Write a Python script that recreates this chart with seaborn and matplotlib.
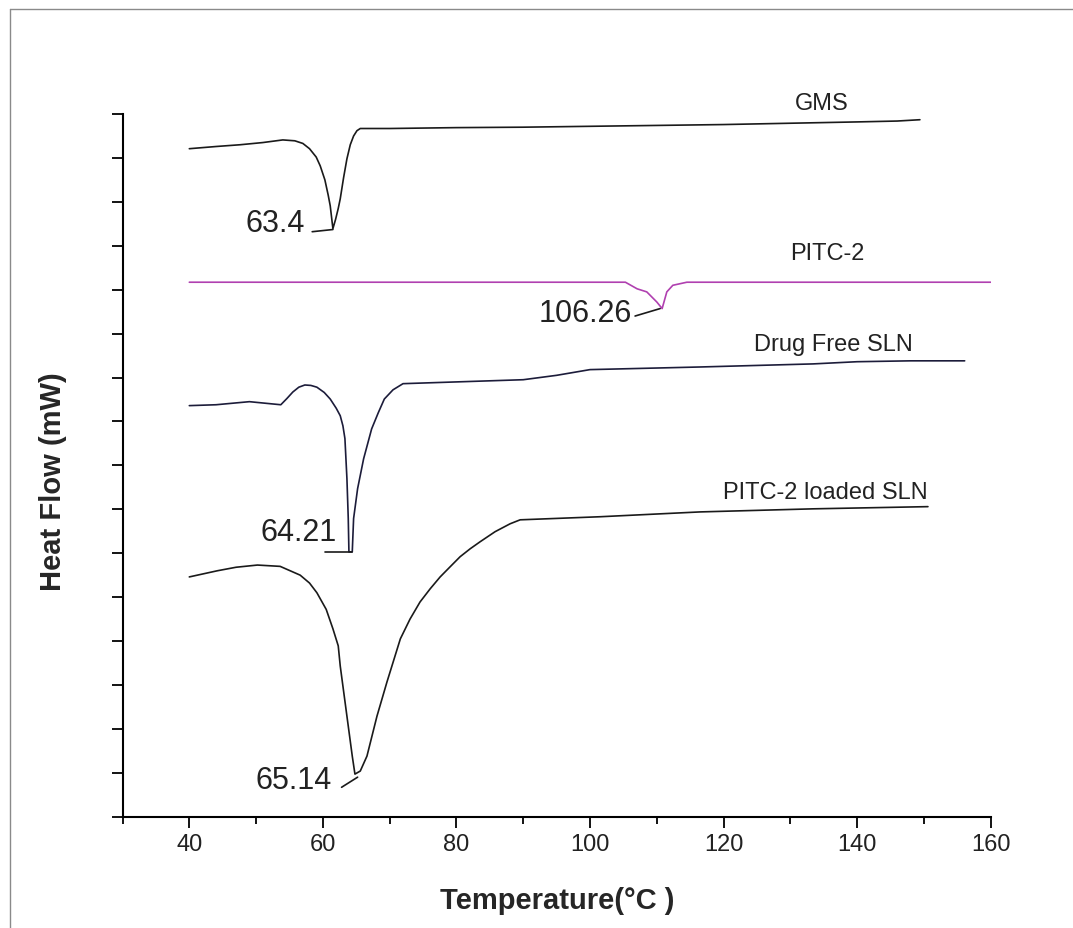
import matplotlib
matplotlib.use("Agg")
import matplotlib.pyplot as plt
from matplotlib.lines import Line2D
from matplotlib.ticker import MultipleLocator, NullFormatter
import seaborn as sns
import pandas as pd

# ---------------- data ----------------
gms_t = [40.0, 44.0, 47.6, 51.0, 54.0, 55.8, 57.0, 58.0, 59.0, 59.6, 60.3, 60.8, 61.1, 61.5, 61.9, 62.3, 62.6, 63.1,
         63.6, 64.1, 64.6, 65.1, 65.6, 70.0, 80.0, 90.0, 100.0, 110.0, 120.0, 130.0, 140.0, 146.0, 149.4]
gms_hf = [15.21, 15.26, 15.30, 15.35, 15.41, 15.39, 15.33, 15.21, 15.02, 14.82, 14.50, 14.15, 13.91, 13.39, 13.60, 13.85, 14.07, 14.55,
          14.98, 15.30, 15.50, 15.62, 15.67, 15.67, 15.69, 15.70, 15.72, 15.74, 15.76, 15.79, 15.82, 15.84, 15.87]

pitc_t = [40.0, 60.0, 80.0, 100.0, 105.3, 107.05, 108.5, 110.0, 110.8, 111.5, 112.4, 114.5, 130.0, 150.0, 160.0]
pitc_hf = [12.17, 12.17, 12.17, 12.17, 12.17, 12.02, 11.95, 11.72, 11.57, 11.95, 12.10, 12.17, 12.17, 12.17, 12.17]

free_t = [40.0, 44.0, 49.0, 53.7, 54.6, 55.5, 56.4, 57.3, 58.2, 59.1, 60.2, 61.1, 62.0, 62.6, 63.0, 63.3, 63.6, 63.8, 63.9,
          64.4, 64.6, 65.2, 66.1, 67.3, 68.3, 69.2, 70.5, 72.0, 80.0, 90.0, 95.0, 100.0, 116.5, 133.4, 140.0, 148.0, 156.1]
free_hf = [9.36, 9.38, 9.45, 9.38, 9.52, 9.67, 9.78, 9.83, 9.82, 9.78, 9.66, 9.51, 9.30, 9.13, 8.90, 8.61, 7.70, 6.79, 6.03,
           6.03, 6.79, 7.47, 8.15, 8.83, 9.20, 9.51, 9.72, 9.86, 9.90, 9.95, 10.05, 10.18, 10.24, 10.31, 10.36, 10.38, 10.38]

load_t = [40.0, 44.2, 47.0, 50.2, 53.6, 56.6, 58.0, 59.1, 60.5, 61.5, 62.3, 62.6, 63.6, 64.4, 64.8, 65.6, 66.6, 68.1, 69.6,
          71.6, 73.05, 74.55, 76.07, 77.56, 79.05, 80.55, 82.05, 83.54, 85.79, 88.04, 89.54, 101.5, 116.5, 133.4, 150.6]
load_hf = [5.46, 5.60, 5.68, 5.73, 5.70, 5.50, 5.32, 5.10, 4.72, 4.28, 3.89, 3.43, 2.29, 1.38, 0.97, 1.04, 1.38, 2.29, 3.07,
           4.05, 4.50, 4.89, 5.19, 5.46, 5.69, 5.92, 6.10, 6.26, 6.49, 6.67, 6.76, 6.83, 6.94, 7.01, 7.06]

series_names = ["GMS", "PITC-2", "Drug Free SLN", "PITC-2 loaded SLN"]
peak_labels = ["63.4", "106.26", "64.21", "65.14"]
x_ticks = [40, 60, 80, 100, 120, 140, 160]

# ---------------- style ----------------
sns.set_theme(style="ticks")
plt.rcParams["font.family"] = ["Liberation Sans", "DejaVu Sans"]

fig = plt.figure(figsize=(10.73, 9.29), dpi=100)
ax = fig.add_axes([0.1142, 0.1198, 0.8091, 0.7564])

curves = [(gms_t, gms_hf, "#1a1a1a"), (pitc_t, pitc_hf, "#b040b0"),
          (free_t, free_hf, "#1c1c3a"), (load_t, load_hf, "#1a1a1a")]
for name, (t, hf, col) in zip(series_names, curves):
    df = pd.DataFrame({"Temperature": t, "HeatFlow": hf})
    sns.lineplot(data=df, x="Temperature", y="HeatFlow", ax=ax, color=col,
                 linewidth=1.2, estimator=None, sort=False)

# series labels
label_pos = [(134.7, 16.26), (135.5, 12.84), (136.4, 10.77), (135.2, 7.39)]
for name, (lx, ly) in zip(series_names, label_pos):
    ax.text(lx, ly, name, ha="center", va="center", fontsize=17, color="#222222")

# peak annotations (text + leader)
ann = [((57.3, 13.52), (58.4, 13.32), (61.5, 13.37)),
       ((106.3, 11.47), (106.75, 11.40), (110.5, 11.57)),
       ((62.1, 6.48), (60.3, 6.03), (64.4, 6.03)),
       ((61.4, 0.84), (62.8, 0.67), (65.2, 0.90))]
for lab, ((tx, ty), (x0, y0), (x1, y1)) in zip(peak_labels, ann):
    ax.text(tx, ty, lab, ha="right", va="center", fontsize=22, color="#222222")
    ax.plot([x0, x1], [y0, y1], color="#1a1a1a", lw=1.2)

# axes
ax.set_xlim(30, 160)
ax.set_ylim(0, 16)
ax.set_xticks(x_ticks)
ax.xaxis.set_minor_locator(MultipleLocator(10))
ax.yaxis.set_major_locator(MultipleLocator(1))
ax.yaxis.set_major_formatter(NullFormatter())
for s in ["top", "right"]:
    ax.spines[s].set_visible(False)
for s in ["left", "bottom"]:
    ax.spines[s].set_linewidth(1.5)
    ax.spines[s].set_color("black")
ax.tick_params(axis="x", which="major", direction="out", length=8, width=1.3,
               labelsize=17, pad=4, colors="black", labelcolor="#222222")
ax.tick_params(axis="x", which="minor", direction="out", length=5, width=1.3, colors="black")
ax.tick_params(axis="y", which="major", direction="out", length=8, width=1.3, colors="black")

ax.set_xlabel("Temperature(°C )", fontsize=21, fontweight="bold", va="center")
ax.xaxis.set_label_coords(0.5005, -0.1185)
ax.set_ylabel("Heat Flow (mW)", fontsize=21, fontweight="bold", va="center")
ax.yaxis.set_label_coords(-0.080, 0.478)

# outer frame visible on left and top
fig.add_artist(Line2D([9.5 / 1073, 9.5 / 1073], [0, 1 - 10 / 929], transform=fig.transFigure,
                      color="#8a8a8a", lw=1.0))
fig.add_artist(Line2D([9.5 / 1073, 1], [1 - 10 / 929, 1 - 10 / 929], transform=fig.transFigure,
                      color="#8a8a8a", lw=1.0))

fig.savefig("out.png", dpi=100, facecolor="white")
